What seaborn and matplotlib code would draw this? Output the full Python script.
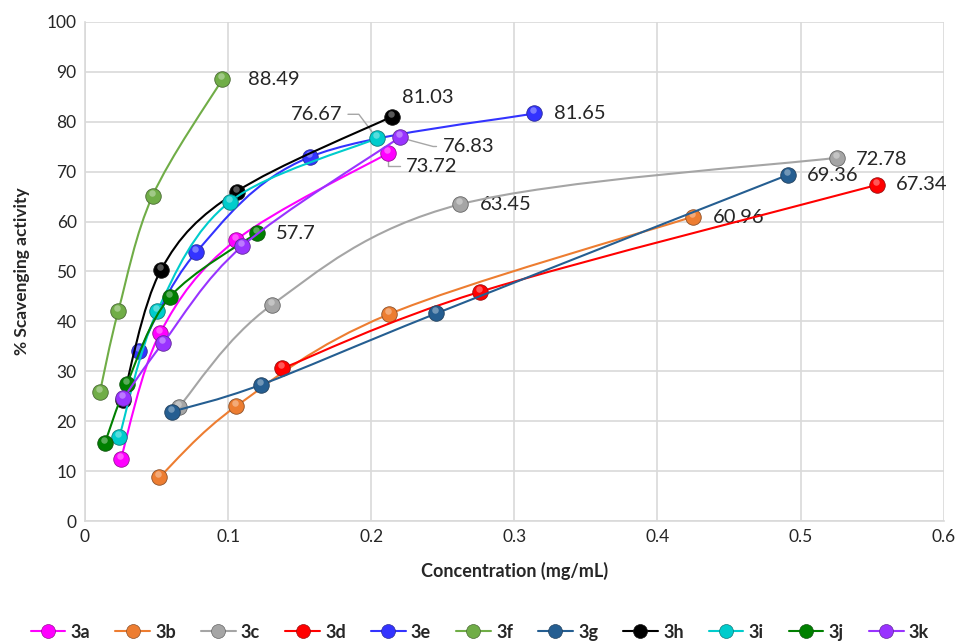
import numpy as np
import pandas as pd
import matplotlib
matplotlib.use("Agg")
import matplotlib.pyplot as plt
from matplotlib.path import Path
from matplotlib.patches import PathPatch
from matplotlib.lines import Line2D
from matplotlib.transforms import offset_copy
import seaborn as sns

sns.set_style("white")
plt.rcParams['font.family'] = ['Lato', 'DejaVu Sans']

# values
names = ['3a', '3b', '3c', '3d', '3e', '3f', '3g', '3h', '3i', '3j', '3k']
x_3a = [0.025, 0.0524, 0.1056, 0.212]
y_3a = [12.4, 37.6, 56.3, 73.72]
x_3b = [0.052, 0.1056, 0.2121, 0.4247]
y_3b = [8.8, 23.0, 41.4, 60.96]
x_3c = [0.0657, 0.1305, 0.2622, 0.5256]
y_3c = [22.9, 43.3, 63.45, 72.78]
x_3d = [0.138, 0.2762, 0.5536]
y_3d = [30.6, 45.95, 67.34]
x_3e = [0.038, 0.0776, 0.1569, 0.3135]
y_3e = [34.1, 53.8, 72.9, 81.65]
x_3f = [0.0105, 0.0233, 0.0473, 0.096]
y_3f = [25.9, 42.1, 65.2, 88.49]
x_3g = [0.0606, 0.1228, 0.2455, 0.4914]
y_3g = [21.9, 27.3, 41.6, 69.36]
x_3h = [0.0263, 0.0531, 0.106, 0.2145]
y_3h = [24.2, 50.3, 66.0, 81.03]
x_3i = [0.024, 0.0506, 0.1014, 0.204]
y_3i = [16.9, 42.1, 64.0, 76.67]
x_3j = [0.014, 0.0291, 0.0594, 0.12]
y_3j = [15.7, 27.4, 44.9, 57.7]
x_3k = [0.0268, 0.0543, 0.110, 0.2198]
y_3k = [24.6, 35.6, 55.1, 76.83]

xs = [x_3a, x_3b, x_3c, x_3d, x_3e, x_3f, x_3g, x_3h, x_3i, x_3j, x_3k]
ys = [y_3a, y_3b, y_3c, y_3d, y_3e, y_3f, y_3g, y_3h, y_3i, y_3j, y_3k]
colors = ['#FF00FF', '#ED7D31', '#A5A5A5', '#FF0000', '#3333FF', '#70AD47',
          '#255E91', '#000000', '#00CCCC', '#008000', '#9933FF']

frames = []
for n, x, y in zip(names, xs, ys):
    frames.append(pd.DataFrame({'series': n, 'conc': x, 'scav': y}))
df = pd.concat(frames, ignore_index=True)

fig = plt.figure(figsize=(9.6, 6.41), dpi=100)
ax = fig.add_axes([0.0885, 0.187, 0.8945, 0.779])


def smooth_path(x, y):
    # Excel-like smoothed line: catmull-rom segments as cubic beziers
    p = np.column_stack([x, y])
    pts = np.vstack([p[0], p, p[-1]])
    verts = [p[0]]
    codes = [Path.MOVETO]
    for i in range(1, len(pts) - 2):
        c1 = pts[i] + (pts[i + 1] - pts[i - 1]) / 6
        c2 = pts[i + 1] - (pts[i + 2] - pts[i]) / 6
        verts += [c1, c2, pts[i + 1]]
        codes += [Path.CURVE4] * 3
    return Path(verts, codes)


# small glossy spot on each ball, a bit above centre
shine = offset_copy(ax.transData, fig=fig, x=-1, y=3, units='dots')

for i, (x, y, c) in enumerate(zip(xs, ys, colors)):
    ax.add_patch(PathPatch(smooth_path(x, y), facecolor='none', edgecolor=c,
                           lw=1.5, zorder=3 + 3 * i))
    sub = df[df.series == names[i]]
    sns.scatterplot(data=sub, x='conc', y='scav', color=c, s=125,
                    edgecolor=sns.dark_palette(c, 3)[1], linewidth=0.6,
                    zorder=4 + 3 * i, ax=ax, legend=False)
    ax.scatter(sub.conc, sub.scav, s=22, color='white', alpha=0.35,
               linewidth=0, transform=shine, zorder=5 + 3 * i)

ax.set_xlim(0, 0.6)
ax.set_ylim(0, 100)
ax.set_xticks(np.arange(0, 0.61, 0.1))
ax.set_xticklabels(['0', '0.1', '0.2', '0.3', '0.4', '0.5', '0.6'])
ax.set_yticks(np.arange(0, 101, 10))
ax.tick_params(labelsize=12.5, length=0, pad=6)
ax.grid(True, color='#D9D9D9', lw=1.2)
ax.set_axisbelow(True)
for s in ['top', 'right']:
    ax.spines[s].set_visible(False)
for s in ['left', 'bottom']:
    ax.spines[s].set_color('#D9D9D9')
    ax.spines[s].set_linewidth(1.2)
ax.set_xlabel('Concentration (mg/mL)', fontsize=13, fontweight='bold', labelpad=12)
ax.set_ylabel('% Scavenging activity', fontsize=12.5, fontweight='bold', labelpad=12)

# end-point data labels (offsets in pixels)
lbl = dict(textcoords='offset pixels', fontsize=14.5, va='center')
lead = dict(arrowstyle='-', color='#A6A6A6', lw=1, shrinkA=2, shrinkB=6)
ax.annotate('88.49', (x_3f[-1], y_3f[-1]), xytext=(26, 0), **lbl)
ax.annotate('81.03', (x_3h[-1], y_3h[-1]), xytext=(10, 19), **lbl)
ax.annotate('81.65', (x_3e[-1], y_3e[-1]), xytext=(20, 0), **lbl)
ax.annotate('57.7', (x_3j[-1], y_3j[-1]), xytext=(19, 0), **lbl)
ax.annotate('63.45', (x_3c[2], y_3c[2]), xytext=(20, 0), **lbl)
ax.annotate('72.78', (x_3c[-1], y_3c[-1]), xytext=(19, -2), **lbl)
ax.annotate('60.96', (x_3b[-1], y_3b[-1]), xytext=(20, -1), **lbl)
ax.annotate('69.36', (x_3g[-1], y_3g[-1]), xytext=(19, -1), **lbl)
ax.annotate('67.34', (x_3d[-1], y_3d[-1]), xytext=(19, 0), **lbl)
ax.annotate('76.67', (x_3i[-1], y_3i[-1]), xytext=(-35, 24), ha='right',
            arrowprops=dict(connectionstyle='angle,angleA=0,angleB=-53,rad=0', **lead), **lbl)
ax.annotate('76.83', (x_3k[-1], y_3k[-1]), xytext=(43, -9), ha='left',
            arrowprops=dict(connectionstyle='angle,angleA=0,angleB=-15,rad=0', **lead), **lbl)
ax.annotate('73.72', (x_3a[-1], y_3a[-1]), xytext=(18, -13), ha='left',
            arrowprops=dict(connectionstyle='angle,angleA=0,angleB=90,rad=0', **lead), **lbl)

handles = [Line2D([0], [0], color=c, lw=1.5, marker='o', markersize=10,
                  markeredgecolor=sns.dark_palette(c, 3)[1], markeredgewidth=0.5)
           for c in colors]
fig.legend(handles, names, loc='center', bbox_to_anchor=(0.5, 0.014), ncol=11,
           frameon=False, handlelength=1.9, handletextpad=0.3, columnspacing=1.4,
           prop={'size': 13, 'weight': 'bold'})

fig.savefig('out.png', dpi=100)
